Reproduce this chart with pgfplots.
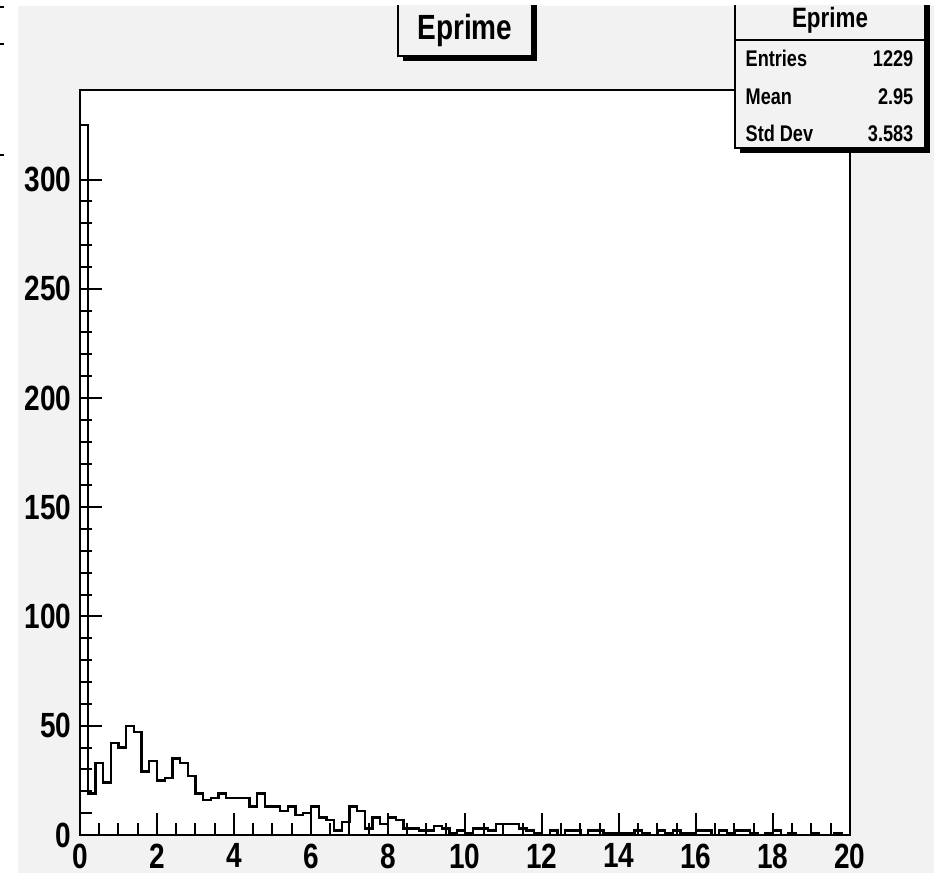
\documentclass[border=0pt]{standalone}
\usepackage{pgfplots}
\pgfplotsset{compat=1.18}
\usepackage{pgfplotstable}
\usepackage{fontspec}
\setmainfont{Liberation Sans}[FakeStretch=0.8]
\definecolor{canvas}{HTML}{F2F2F2}

% bin left edge, content (100 bins of 0.2)
\pgfplotstableread{
x y
0.0 325
0.2 19
0.4 33
0.6 24
0.8 42
1.0 40
1.2 50
1.4 47
1.6 29
1.8 34
2.0 25
2.2 26
2.4 35
2.6 33
2.8 27
3.0 19
3.2 16
3.4 17
3.6 19
3.8 17
4.0 17
4.2 17
4.4 13
4.6 19
4.8 13
5.0 13
5.2 11
5.4 13
5.6 9
5.8 10
6.0 13
6.2 8
6.4 7
6.6 2
6.8 6
7.0 13
7.2 11
7.4 3
7.6 8
7.8 5
8.0 8
8.2 7
8.4 3
8.6 3
8.8 2
9.0 2
9.2 4
9.4 3
9.6 1
9.8 2
10.0 1
10.2 3
10.4 3
10.6 2
10.8 5
11.0 5
11.2 5
11.4 3
11.6 2
11.8 1
12.0 0
12.2 2
12.4 0
12.6 2
12.8 2
13.0 0
13.2 2
13.4 2
13.6 1
13.8 1
14.0 1
14.2 1
14.4 2
14.6 1
14.8 0
15.0 2
15.2 1
15.4 2
15.6 1
15.8 1
16.0 2
16.2 2
16.4 0
16.6 2
16.8 1
17.0 2
17.2 2
17.4 1
17.6 0
17.8 1
18.0 2
18.2 0
18.4 1
18.6 0
18.8 0
19.0 1
19.2 0
19.4 0
19.6 1
19.8 0
20.0 0
}\eprime

\begin{document}
\begin{tikzpicture}
\begin{scope}[x=0.3pt,y=-0.3pt,shift={(0,261.9pt)}]
  \useasboundingbox (0,0) rectangle (934,873);
  \fill[white] (0,0) rectangle (934,873);
  \fill[canvas] (18,6) rectangle (934,873);
  \draw[line width=0.6pt] (0,7) -- (4,7) (0,44) -- (4,44) (0,155) -- (4,155);
\end{scope}

\begin{axis}[
  at={(24pt,11.4pt)}, anchor=south west,
  scale only axis, width=231pt, height=223.5pt,
  xmin=0, xmax=20, ymin=0, ymax=341,
  axis background/.style={fill=white},
  axis line style={line width=0.6pt},
  xtick={0,2,...,20}, ytick={0,50,...,300},
  minor x tick num=3, minor y tick num=4,
  tick align=inside, xtick pos=bottom, ytick pos=left,
  major tick length=6.6pt, minor tick length=3.5pt,
  every tick/.style={line width=0.6pt, black},
  ticklabel style={font=\fontsize{10.5}{12}\selectfont\bfseries},
  xticklabel style={yshift=0.9pt},
  yticklabel style={xshift=1pt},
  /pgf/number format/assume math mode=true,
  clip=false,
]
\addplot[const plot, black, line width=0.7pt] table[x=x, y=y] {\eprime};
\end{axis}

\begin{scope}[x=0.3pt,y=-0.3pt,shift={(0,261.9pt)}]
  \clip (0,6) rectangle (934,873);
  % title box
  \fill[black] (403,0) rectangle (537,61);
  \filldraw[fill=canvas, draw=black, line width=0.6pt] (398,-5) rectangle (532,56);
  \node[font=\fontsize{10.5}{12}\selectfont\bfseries, anchor=base, inner sep=0pt] at (465,40) {Eprime};
  % stats box
  \fill[black] (740,0) rectangle (930,153);
  \filldraw[fill=canvas, draw=black, line width=0.6pt] (735,-5) rectangle (925,148);
  \draw[line width=0.6pt] (735,40) -- (925,40);
  \node[font=\fontsize{8.4}{10}\selectfont\bfseries, anchor=base, inner sep=0pt] at (830,28) {Eprime};
  \begin{scope}[every node/.style={font=\fontsize{6.8}{8}\selectfont\bfseries, inner sep=0pt}]
    \node[anchor=base west] at (745,67) {Entries};
    \node[anchor=base east] at (914,67) {1229};
    \node[anchor=base west] at (745,105) {Mean};
    \node[anchor=base east] at (914,105) {2.95};
    \node[anchor=base west] at (745,142) {Std Dev};
    \node[anchor=base east] at (914,142) {3.583};
  \end{scope}
\end{scope}
\end{tikzpicture}
\end{document}
